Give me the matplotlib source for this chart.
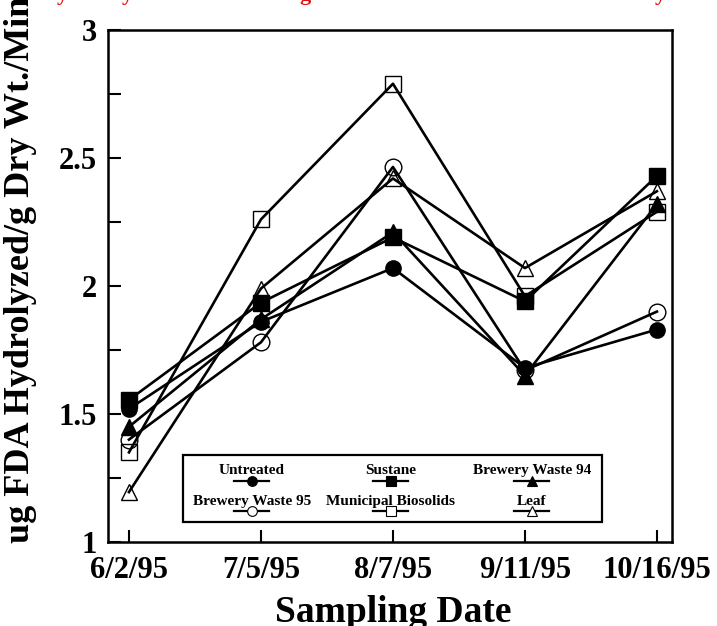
import matplotlib
matplotlib.use("Agg")
import matplotlib.pyplot as plt
from matplotlib.lines import Line2D
from matplotlib.patches import Rectangle

dates = ["6/2/95", "7/5/95", "8/7/95", "9/11/95", "10/16/95"]

untreated = [1.52, 1.86, 2.07, 1.68, 1.83]
sustane = [1.555, 1.935, 2.19, 1.94, 2.43]
brewery_94 = [1.45, 1.87, 2.21, 1.65, 2.32]
brewery_95 = [1.40, 1.78, 2.465, 1.67, 1.90]
municipal = [1.35, 2.26, 2.79, 1.96, 2.29]
leaf = [1.195, 1.99, 2.42, 2.07, 2.37]

series = [
    ("Untreated", untreated, "o", True),
    ("Sustane", sustane, "s", True),
    ("Brewery Waste 94", brewery_94, "^", True),
    ("Brewery Waste 95", brewery_95, "o", False),
    ("Municipal Biosolids", municipal, "s", False),
    ("Leaf", leaf, "^", False),
]

plt.rcParams["font.family"] = ["Liberation Serif", "DejaVu Serif"]
plt.rcParams["font.weight"] = "bold"

fig = plt.figure(figsize=(7.17, 6.26), dpi=100)
ax = fig.add_axes([0.1506, 0.1342, 0.7866, 0.8179])

x = list(range(len(dates)))

# open markers first, filled on top
for name, vals, mk, filled in series[3:] + series[:3]:
    if filled:
        ax.plot(x, vals, color="black", linewidth=1.9, marker=mk,
                markersize=11, markerfacecolor="black", markeredgecolor="black")
    else:
        ax.plot(x, vals, color="black", linewidth=1.9, marker=mk,
                markersize=12, markerfacecolor="none", markeredgecolor="black",
                markeredgewidth=1.0)

ax.set_xlim(-0.159, 4.114)
ax.set_ylim(1, 3)
ax.set_xticks(x)
ax.set_xticklabels(dates)
yt = [1 + 0.25 * i for i in range(9)]
ax.set_yticks(yt)
ax.set_yticklabels([("%g" % v) if i % 2 == 0 else "" for i, v in enumerate(yt)])

ax.tick_params(direction="in", length=9, width=1.5, labelsize=22)
ax.tick_params(axis="x", pad=10)
ax.tick_params(axis="y", pad=8)
for lab in ax.get_xticklabels() + ax.get_yticklabels():
    lab.set_fontweight("bold")
for sp in ax.spines.values():
    sp.set_linewidth(1.8)

fig.text(0.029, 1 - 543 / 626, "ug FDA Hydrolyzed/g Dry Wt./Min", rotation=90,
         ha="center", va="bottom", fontsize=26, fontweight="bold")
fig.text(0.548, 0.0064, "Sampling Date", ha="center", va="baseline",
         fontsize=27, fontweight="bold")

# red caption cut off by the top edge
for xp, ch in [(62, "y"), (127, "y"), (305, "g"), (660, "y")]:
    fig.text(xp / 717, 1.0, ch, color="#e01010", fontsize=16, ha="center",
             va="baseline", fontweight="bold")

# legend box, label above each handle
def ax_x(px):
    return (px - 108) / 564


def ax_y(py):
    return (542 - py) / 512


ax.add_patch(Rectangle((ax_x(183), ax_y(522)), ax_x(602) - ax_x(183),
                       ax_y(455) - ax_y(522), transform=ax.transAxes,
                       fill=False, edgecolor="black", linewidth=1.6,
                       clip_on=False, zorder=5))
cols = [252, 391, 532]
rows = [(474, 481), (505, 511)]
for i, (name, vals, mk, filled) in enumerate(series):
    cx = ax_x(cols[i % 3])
    ty, hy = rows[i // 3]
    ax.text(cx, ax_y(ty), name, transform=ax.transAxes, ha="center",
            va="baseline", fontsize=11, fontweight="bold", zorder=6)
    half = 17.5 / 564
    ax.add_line(Line2D([cx - half, cx + half], [ax_y(hy), ax_y(hy)],
                       transform=ax.transAxes, color="black", linewidth=1.6,
                       zorder=6))
    ax.add_line(Line2D([cx], [ax_y(hy)], transform=ax.transAxes, marker=mk,
                       markersize=7, markerfacecolor="black" if filled else "white",
                       markeredgecolor="black", markeredgewidth=0.8,
                       linestyle="none", zorder=7))

fig.savefig("out.png", dpi=100)
